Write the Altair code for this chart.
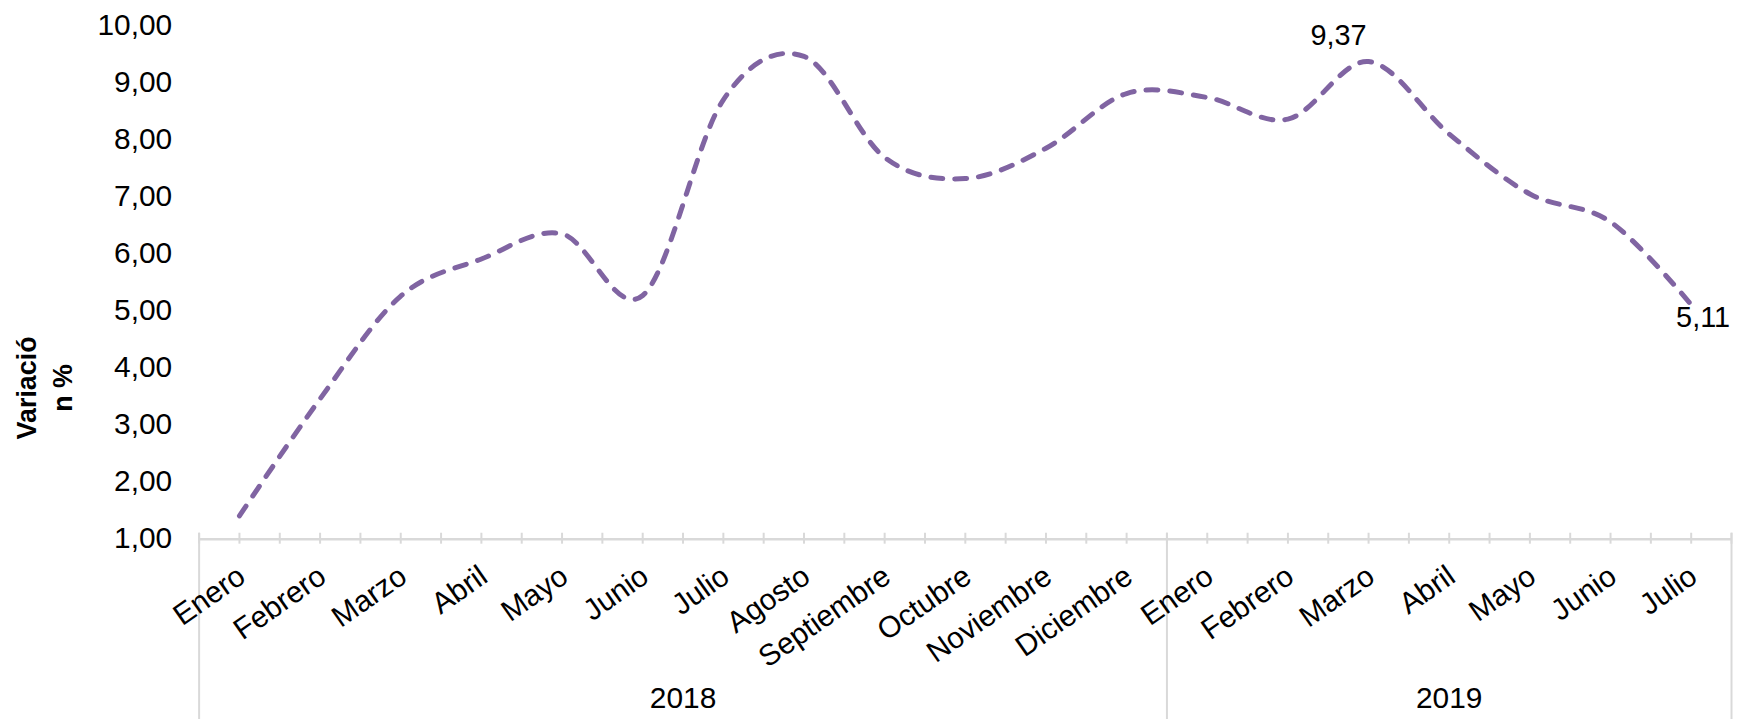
import altair as alt
import pandas as pd

# ---------------- data ----------------
months = ["Enero", "Febrero", "Marzo", "Abril", "Mayo", "Junio", "Julio", "Agosto",
          "Septiembre", "Octubre", "Noviembre", "Diciembre",
          "Enero", "Febrero", "Marzo", "Abril", "Mayo", "Junio", "Julio"]
values = [1.41, 3.46, 5.26, 5.91, 6.35, 5.27, 8.70, 9.46, 7.69, 7.32, 7.85, 8.81,
          8.74, 8.36, 9.37, 8.10, 7.05, 6.56, 5.11]
years = ["2018", "2019"]
year_sizes = [12, 7]          # months per year
y_ticks = [1, 2, 3, 4, 5, 6, 7, 8, 9, 10]
labeled_idx = [14, 18]        # points with a data label
y_title = ["Variació", "n %"]

# ---------------- derived tables ----------------
n = len(months)
df = pd.DataFrame({"idx": list(range(n)), "mes": months, "valor": values})
df_y = pd.DataFrame({"v": y_ticks})

half_ticks = [i * 0.5 - 0.5 for i in range(2 * n + 1)]
df_ticks = pd.DataFrame({"pos": half_ticks})

bounds = [-0.5]
centers = []
start = -0.5
for s in year_sizes:
    centers.append(start + s / 2)
    start += s
    bounds.append(start)
df_bounds = pd.DataFrame({"pos": bounds})
df_years = pd.DataFrame({"pos": centers, "year": years})
df_one = pd.DataFrame({"k": [0]})

# ---------------- styling ----------------
W, H = 1539.5, 516
FONT = "Liberation Sans"
GRAY = "#d9d9d9"
PURPLE = "#8064A2"
BLACK = "#000000"

xscale = alt.Scale(domain=[-0.5, n - 0.5], nice=False, zero=False)
yscale = alt.Scale(domain=[y_ticks[0], y_ticks[-1]], nice=False, zero=False)

line = alt.Chart(df).mark_line(
    interpolate="cardinal", color=PURPLE, strokeWidth=5,
    strokeDash=[12, 12], strokeCap="round"
).encode(
    x=alt.X("idx:Q", scale=xscale, axis=None),
    y=alt.Y("valor:Q", scale=yscale, axis=None),
)

# y-axis labels (comma decimal)
y_labels = alt.Chart(df_y).transform_calculate(
    lbl="replace(format(datum.v, '.2f'), '.', ',')"
).mark_text(font=FONT, fontSize=30, color=BLACK, align="right",
            baseline="middle").encode(
    x=alt.value(-27),
    y=alt.Y("v:Q", scale=yscale, axis=None),
    text="lbl:N",
)

y_title_mark = alt.Chart(df_one).mark_text(
    font=FONT, fontSize=27, fontWeight="bold", color=BLACK, angle=270,
    align="center", baseline="middle", lineHeight=36
).encode(
    x=alt.value(-172), y=alt.value(364), text=alt.value(y_title),
)

# x-axis line
x_domain = alt.Chart(df_one).mark_rule(color=GRAY, strokeWidth=2.5).encode(
    x=alt.value(0), x2=alt.value(W), y=alt.value(H),
)

month_text = alt.Chart(df).mark_text(
    font=FONT, fontSize=30, color=BLACK, angle=325,
    align="right", baseline="top", dx=-7
).encode(
    x=alt.X("idx:Q", scale=xscale, axis=None),
    y=alt.value(H + 18),
    text="mes:N",
)

ticks = alt.Chart(df_ticks).mark_rule(color=GRAY, strokeWidth=2).encode(
    x=alt.X("pos:Q", scale=xscale, axis=None),
    y=alt.value(H - 6.5), y2=alt.value(H + 4.5),
)

seps = alt.Chart(df_bounds).mark_rule(color=GRAY, strokeWidth=2).encode(
    x=alt.X("pos:Q", scale=xscale, axis=None),
    y=alt.value(H - 6.5), y2=alt.value(H + 190),
)

year_text = alt.Chart(df_years).mark_text(
    font=FONT, fontSize=30, color=BLACK, align="center", baseline="middle"
).encode(
    x=alt.X("pos:Q", scale=xscale, axis=None),
    y=alt.value(H + 161),
    text="year:N",
)

base_lbl = alt.Chart(df).transform_calculate(
    lbl="replace(format(datum.valor, '.2f'), '.', ',')"
)
lbl_peak = base_lbl.transform_filter(
    alt.datum.idx == labeled_idx[0]
).mark_text(font=FONT, fontSize=29, color=BLACK, align="right",
            baseline="alphabetic", dx=-2, dy=-17).encode(
    x=alt.X("idx:Q", scale=xscale, axis=None),
    y=alt.Y("valor:Q", scale=yscale, axis=None),
    text="lbl:N",
)
lbl_last = base_lbl.transform_filter(
    alt.datum.idx == labeled_idx[1]
).mark_text(font=FONT, fontSize=29, color=BLACK, align="center",
            baseline="alphabetic", dx=12, dy=22).encode(
    x=alt.X("idx:Q", scale=xscale, axis=None),
    y=alt.Y("valor:Q", scale=yscale, axis=None),
    text="lbl:N",
)

chart = alt.layer(
    x_domain, seps, ticks, line, y_labels, y_title_mark, month_text,
    year_text, lbl_peak, lbl_last
).properties(
    width=W, height=H,
    autosize=alt.AutoSizeParams(type="none"),
    padding={"left": 192, "top": 16, "right": 2.5, "bottom": 190},
).configure_view(strokeWidth=0)

chart.save("out.html", embed_options={"renderer": "svg", "actions": False})
